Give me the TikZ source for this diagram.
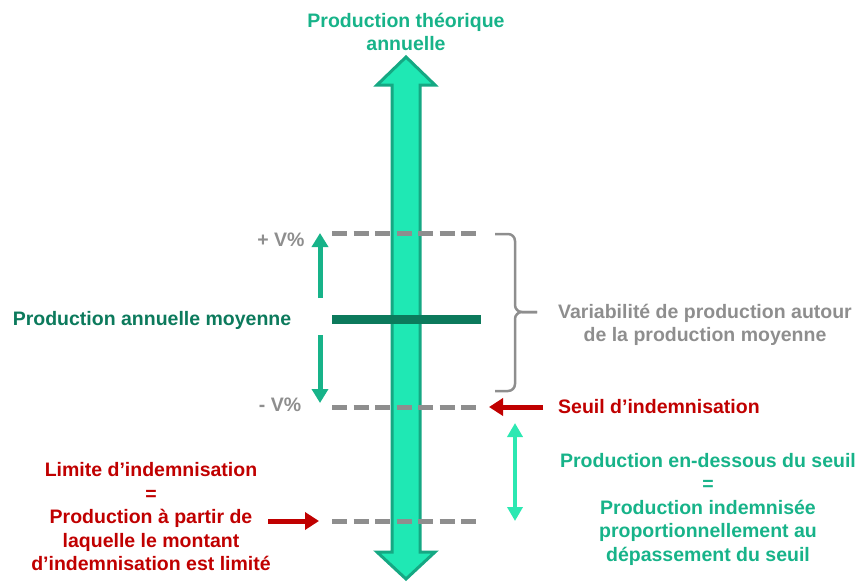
\documentclass[tikz,border=0pt]{standalone}
\usepackage{fontspec}
\setmainfont{Liberation Sans}
\usetikzlibrary{arrows.meta}
\definecolor{aqua}{HTML}{1FE8B4}
\definecolor{aquaedge}{HTML}{15A883}
\definecolor{tgreen}{HTML}{17B389}
\definecolor{dgreen}{HTML}{0C7A5C}
\definecolor{tgray}{HTML}{8E8E8E}
\definecolor{tred}{HTML}{C00000}
\definecolor{cyanar}{HTML}{2CE8B2}
\tikzset{
  lbl/.style={font=\fontsize{19.5}{23.5}\selectfont\bfseries, inner sep=0pt, align=center},
  dashline/.style={draw=tgray, line width=5pt, dash pattern=on 15pt off 6.5pt},
  smallarrow/.style={draw=tgreen, line width=5pt, -{Triangle[width=16pt,length=14pt]}},
  redarrow/.style={draw=tred, line width=5pt, -{Triangle[width=17pt,length=14pt]}},
  cyanarrow/.style={draw=cyanar, line width=4.5pt, {Triangle[width=15pt,length=14pt]}-{Triangle[width=15pt,length=14pt]}},
}
\begin{document}
\begin{tikzpicture}[x=1pt,y=-1pt]
\useasboundingbox (0,0) rectangle (859,581);
% big double arrow
\filldraw[fill=aqua, draw=aquaedge, line width=3pt, line join=miter]
  (406,57) -- (435,85) -- (420,85) -- (420,552) -- (435,552) -- (406,579)
  -- (377,552) -- (392,552) -- (392,85) -- (377,85) -- cycle;
% dashed levels
\coordinate (up1) at (332,233); \coordinate (up2) at (478,233);
\coordinate (dn1) at (332,407); \coordinate (dn2) at (478,407);
\coordinate (li1) at (332,521); \coordinate (li2) at (478,521);
\draw[dashline] (up1) -- (up2);
\draw[dashline] (dn1) -- (dn2);
\draw[dashline] (li1) -- (li2);
% mean bar
\coordinate (m1) at (332,319); \coordinate (m2) at (481,319);
\draw[draw=dgreen, line width=9pt] (m1) -- (m2);
% small arrows
\coordinate (sa1) at (320,298); \coordinate (sa2) at (320,233);
\coordinate (sb1) at (320,335); \coordinate (sb2) at (320,403);
\draw[smallarrow] (sa1) -- (sa2);
\draw[smallarrow] (sb1) -- (sb2);
% brace
\draw[tgray, line width=2.5pt, rounded corners=7pt] (495,234) -- (515,234) -- (515,312) -- (537,312);
\draw[tgray, line width=2.5pt, rounded corners=7pt] (495,391) -- (515,391) -- (515,312) -- (537,312);
% texts
\node[lbl, text=tgreen] (top) at (406,32) {Production théorique\\annuelle};
\node[lbl, text=tgray] (plus) at (281,240) {+ V\%};
\node[lbl, text=tgray] (minus) at (280,405) {- V\%};
\node[lbl, text=dgreen] (moy) at (152,320) {Production annuelle moyenne};
\node[lbl, text=tgray] (var) at (705,325) {Variabilité de production autour\\de la production moyenne};
\node[lbl, text=tred, anchor=west] (seuil) at (558,407) {Seuil d’indemnisation};
\node[lbl, text=tred] (lim) at (151,517) {Limite d’indemnisation\\=\\Production à partir de\\laquelle le montant\\d’indemnisation est limité};
\node[lbl, text=tgreen] (ind) at (708,509) {Production en-dessous du seuil\\=\\Production indemnisée\\proportionnellement au\\dépassement du seuil};
% red arrows
\coordinate (ra1) at (543,407); \coordinate (ra2) at (489,407);
\draw[redarrow] (ra1) -- (ra2);
\coordinate (rb1) at (268,521); \coordinate (rb2) at (319,521);
\draw[redarrow] (rb1) -- (rb2);
% cyan double arrow
\coordinate (c1) at (515,423); \coordinate (c2) at (515,521);
\draw[cyanarrow] (c1) -- (c2);
\end{tikzpicture}
\end{document}
